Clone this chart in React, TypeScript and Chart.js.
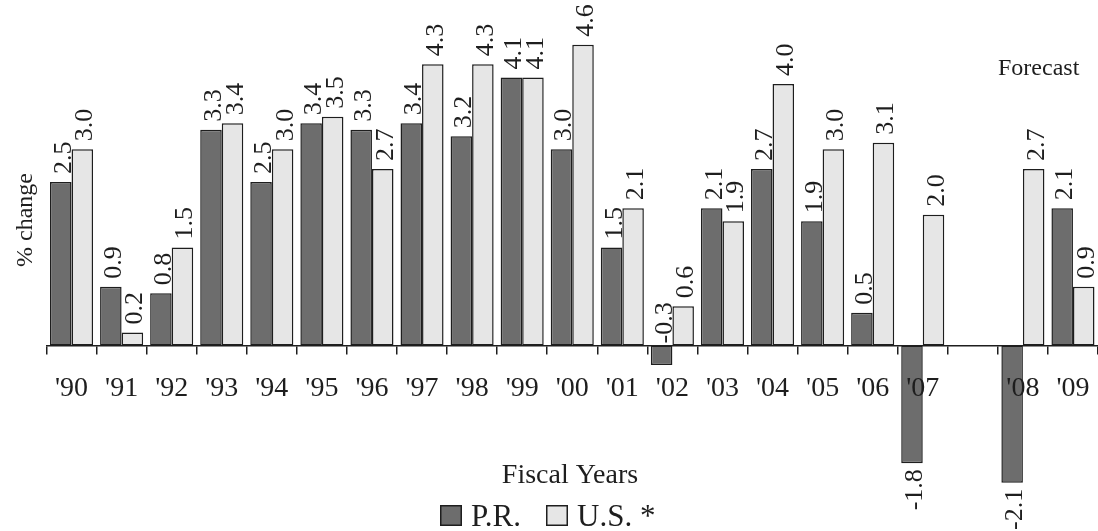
import React, { useEffect, useRef } from 'react';
import { Chart, registerables } from 'chart.js';

Chart.register(...registerables);

// Fiscal years on the category axis; the blank slot separates actual years from forecast.
const fiscalYears = ["'90", "'91", "'92", "'93", "'94", "'95", "'96", "'97", "'98", "'99", "'00", "'01", "'02", "'03", "'04", "'05", "'06", "'07", '', "'08", "'09"];

// Real growth, % change
const prGrowth = [2.5, 0.9, 0.8, 3.3, 2.5, 3.4, 3.3, 3.4, 3.2, 4.1, 3.0, 1.5, -0.3, 2.1, 2.7, 1.9, 0.5, -1.8, null, -2.1, 2.1];
const usGrowth = [3.0, 0.2, 1.5, 3.4, 3.0, 3.5, 2.7, 4.3, 4.3, 4.1, 4.6, 2.1, 0.6, 1.9, 4.0, 3.0, 3.1, 2.0, null, 2.7, 0.9];

const seriesNames = ['P.R.', 'U.S. *'];
const seriesFills = ['#6d6d6d', '#e6e6e6'];

const SERIF = "'Liberation Serif', 'Times New Roman', serif";
const INK = '#1e1e1e';

// Rotated value labels, "% change", "Fiscal Years", "Forecast" and the legend.
const annotations = {
  id: 'annotations',
  afterDraw(chart: any) {
    const { ctx } = chart;
    const zeroY = chart.scales.y.getPixelForValue(0);
    ctx.save();
    ctx.fillStyle = INK;
    ctx.font = `26px ${SERIF}`;
    ctx.textBaseline = 'alphabetic';
    chart.data.datasets.forEach((ds: any, di: number) => {
      const meta = chart.getDatasetMeta(di);
      meta.data.forEach((bar: any, i: number) => {
        const v = ds.data[i];
        if (v === null || v === undefined) return;
        const text = v.toFixed(1);
        let anchorY: number;
        let align: CanvasTextAlign;
        if (v >= 0) {
          anchorY = bar.y - 8;
          align = 'left';
        } else if (v > -0.5) {
          anchorY = zeroY - 2;
          align = 'left';
        } else {
          anchorY = bar.y + 6;
          align = 'right';
        }
        ctx.save();
        ctx.translate(bar.x + 10, anchorY);
        ctx.rotate(-Math.PI / 2);
        ctx.textAlign = align;
        ctx.fillText(text, 0, 0);
        ctx.restore();
      });
    });

    // y-axis title
    ctx.save();
    ctx.font = `24px ${SERIF}`;
    ctx.translate(32, 220);
    ctx.rotate(-Math.PI / 2);
    ctx.textAlign = 'center';
    ctx.fillText('% change', 0, 0);
    ctx.restore();

    // forecast note
    ctx.font = `24px ${SERIF}`;
    ctx.textAlign = 'left';
    ctx.fillText('Forecast', 998, 75);

    // x-axis title
    ctx.font = `28px ${SERIF}`;
    ctx.textAlign = 'center';
    ctx.fillText('Fiscal Years', 570, 483);

    // legend
    ctx.font = `31px ${SERIF}`;
    ctx.textAlign = 'left';
    const boxes = [440, 546];
    seriesNames.forEach((name, k) => {
      const bx = boxes[k];
      ctx.fillStyle = seriesFills[k];
      ctx.fillRect(bx, 505, 22, 21);
      ctx.strokeStyle = INK;
      ctx.lineWidth = 1.5;
      ctx.strokeRect(bx + 0.75, 505.75, 20.5, 19.5);
      ctx.fillStyle = INK;
      ctx.fillText(name, bx + 31, 526);
    });
    ctx.restore();
  },
};

export default function App() {
  const canvasRef = useRef<HTMLCanvasElement | null>(null);

  useEffect(() => {
    if (!canvasRef.current) return;
    Chart.defaults.font.family = SERIF;
    const chart = new Chart(canvasRef.current, {
      type: 'bar',
      data: {
        labels: fiscalYears,
        datasets: [
          {
            label: seriesNames[0],
            data: prGrowth,
            backgroundColor: seriesFills[0],
            borderColor: INK,
            borderWidth: 1.5,
            borderSkipped: false,
            categoryPercentage: 0.86,
            barPercentage: 1,
          },
          {
            label: seriesNames[1],
            data: usGrowth,
            backgroundColor: seriesFills[1],
            borderColor: INK,
            borderWidth: 1.5,
            borderSkipped: false,
            categoryPercentage: 0.86,
            barPercentage: 1,
          },
        ],
      },
      options: {
        responsive: false,
        animation: false,
        devicePixelRatio: 1,
        layout: { padding: { left: 46.5, right: 0, top: 5.5, bottom: 15.5 } },
        plugins: {
          legend: { display: false },
          title: { display: false },
          tooltip: { enabled: false },
        },
        scales: {
          x: {
            type: 'category',
            position: { y: 0 },
            offset: true,
            grid: {
              display: true,
              offset: true,
              drawOnChartArea: false,
              drawTicks: true,
              tickLength: 8,
              color: INK,
              lineWidth: 1.5,
              z: 1,
            },
            border: { display: true, color: INK, width: 1.5, z: 1 },
            ticks: {
              autoSkip: false,
              maxRotation: 0,
              minRotation: 0,
              padding: 0,
              color: INK,
              z: 1,
              font: { family: SERIF, size: 28, lineHeight: 2.49 },
            },
          },
          y: {
            display: false,
            min: -2.6,
            max: 5.2,
          },
        },
      },
      plugins: [annotations],
    } as any);
    return () => chart.destroy();
  }, []);

  return (
    <div style={{ position: 'absolute', left: 0, top: 0, width: 1098, height: 531, background: '#fff' }}>
      <canvas ref={canvasRef} width={1098} height={531} style={{ display: 'block' }} />
    </div>
  );
}
